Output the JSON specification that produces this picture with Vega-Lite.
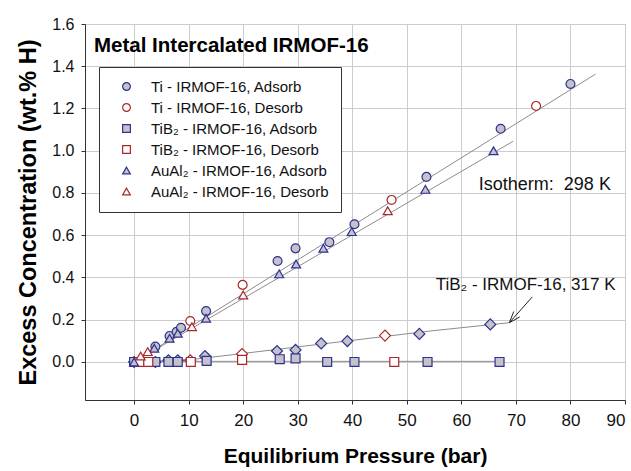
{
  "$schema": "https://vega.github.io/schema/vega-lite/v6.json",
  "width": 540,
  "height": 376,
  "autosize": {"type": "none"},
  "padding": {"left": 85, "top": 24, "right": 6, "bottom": 71},
  "background": "white",
  "config": {
    "view": {"stroke": "#888888", "strokeWidth": 1},
    "axis": {
      "labelFont": "Liberation Sans",
      "labelFontSize": 16,
      "labelColor": "#111",
      "titleFont": "Liberation Sans",
      "titleFontWeight": "bold",
      "titleColor": "#000",
      "domainColor": "#333",
      "tickColor": "#333",
      "tickSize": 4,
      "gridColor": "#cccccc",
      "gridWidth": 1
    },
    "legend": {
      "labelFont": "Liberation Sans",
      "labelFontSize": 15,
      "labelColor": "#111",
      "labelLimit": 400
    }
  },
  "datasets": {
    "pts": [
      {"P": 0, "C": 0, "s": "Ti - IRMOF-16, Adsorb"},
      {"P": 3.9, "C": 0.073, "s": "Ti - IRMOF-16, Adsorb"},
      {"P": 6.5, "C": 0.123, "s": "Ti - IRMOF-16, Adsorb"},
      {"P": 7.8, "C": 0.143, "s": "Ti - IRMOF-16, Adsorb"},
      {"P": 8.6, "C": 0.162, "s": "Ti - IRMOF-16, Adsorb"},
      {"P": 13.2, "C": 0.241, "s": "Ti - IRMOF-16, Adsorb"},
      {"P": 26.3, "C": 0.478, "s": "Ti - IRMOF-16, Adsorb"},
      {"P": 29.6, "C": 0.538, "s": "Ti - IRMOF-16, Adsorb"},
      {"P": 35.8, "C": 0.567, "s": "Ti - IRMOF-16, Adsorb"},
      {"P": 40.4, "C": 0.652, "s": "Ti - IRMOF-16, Adsorb"},
      {"P": 53.6, "C": 0.876, "s": "Ti - IRMOF-16, Adsorb"},
      {"P": 67.2, "C": 1.104, "s": "Ti - IRMOF-16, Adsorb"},
      {"P": 80.0, "C": 1.316, "s": "Ti - IRMOF-16, Adsorb"},
      {"P": 10.3, "C": 0.194, "s": "Ti - IRMOF-16, Desorb"},
      {"P": 19.9, "C": 0.365, "s": "Ti - IRMOF-16, Desorb"},
      {"P": 47.2, "C": 0.767, "s": "Ti - IRMOF-16, Desorb"},
      {"P": 73.7, "C": 1.212, "s": "Ti - IRMOF-16, Desorb"},
      {"P": 0, "C": 0, "s": "TiB₂ - IRMOF-16, Adsorb"},
      {"P": 3.9, "C": 0, "s": "TiB₂ - IRMOF-16, Adsorb"},
      {"P": 6.3, "C": 0, "s": "TiB₂ - IRMOF-16, Adsorb"},
      {"P": 8.0, "C": 0, "s": "TiB₂ - IRMOF-16, Adsorb"},
      {"P": 13.3, "C": 0.005, "s": "TiB₂ - IRMOF-16, Adsorb"},
      {"P": 26.7, "C": 0.013, "s": "TiB₂ - IRMOF-16, Adsorb"},
      {"P": 29.6, "C": 0.017, "s": "TiB₂ - IRMOF-16, Adsorb"},
      {"P": 35.4, "C": 0, "s": "TiB₂ - IRMOF-16, Adsorb"},
      {"P": 40.4, "C": 0, "s": "TiB₂ - IRMOF-16, Adsorb"},
      {"P": 53.8, "C": 0, "s": "TiB₂ - IRMOF-16, Adsorb"},
      {"P": 67.0, "C": 0, "s": "TiB₂ - IRMOF-16, Adsorb"},
      {"P": 1.0, "C": 0, "s": "TiB₂ - IRMOF-16, Desorb"},
      {"P": 2.6, "C": 0, "s": "TiB₂ - IRMOF-16, Desorb"},
      {"P": 10.4, "C": 0, "s": "TiB₂ - IRMOF-16, Desorb"},
      {"P": 19.8, "C": 0.01, "s": "TiB₂ - IRMOF-16, Desorb"},
      {"P": 47.7, "C": 0, "s": "TiB₂ - IRMOF-16, Desorb"},
      {"P": 0, "C": 0, "s": "AuAl₂ - IRMOF-16, Adsorb"},
      {"P": 3.7, "C": 0.065, "s": "AuAl₂ - IRMOF-16, Adsorb"},
      {"P": 6.5, "C": 0.112, "s": "AuAl₂ - IRMOF-16, Adsorb"},
      {"P": 8.0, "C": 0.136, "s": "AuAl₂ - IRMOF-16, Adsorb"},
      {"P": 13.2, "C": 0.207, "s": "AuAl₂ - IRMOF-16, Adsorb"},
      {"P": 26.6, "C": 0.417, "s": "AuAl₂ - IRMOF-16, Adsorb"},
      {"P": 29.7, "C": 0.464, "s": "AuAl₂ - IRMOF-16, Adsorb"},
      {"P": 34.7, "C": 0.538, "s": "AuAl₂ - IRMOF-16, Adsorb"},
      {"P": 39.9, "C": 0.617, "s": "AuAl₂ - IRMOF-16, Adsorb"},
      {"P": 53.4, "C": 0.817, "s": "AuAl₂ - IRMOF-16, Adsorb"},
      {"P": 65.9, "C": 1.0, "s": "AuAl₂ - IRMOF-16, Adsorb"},
      {"P": 1.2, "C": 0.028, "s": "AuAl₂ - IRMOF-16, Desorb"},
      {"P": 2.5, "C": 0.049, "s": "AuAl₂ - IRMOF-16, Desorb"},
      {"P": 10.6, "C": 0.167, "s": "AuAl₂ - IRMOF-16, Desorb"},
      {"P": 20.0, "C": 0.317, "s": "AuAl₂ - IRMOF-16, Desorb"},
      {"P": 46.5, "C": 0.716, "s": "AuAl₂ - IRMOF-16, Desorb"}
    ],
    "dia": [
      {"P": 0, "C": 0, "d": "A"},
      {"P": 3.9, "C": 0, "d": "A"},
      {"P": 6.3, "C": 0.008, "d": "A"},
      {"P": 8.0, "C": 0.008, "d": "A"},
      {"P": 13.0, "C": 0.028, "d": "A"},
      {"P": 26.2, "C": 0.052, "d": "A"},
      {"P": 29.6, "C": 0.057, "d": "A"},
      {"P": 34.3, "C": 0.088, "d": "A"},
      {"P": 39.1, "C": 0.099, "d": "A"},
      {"P": 52.3, "C": 0.133, "d": "A"},
      {"P": 65.3, "C": 0.178, "d": "A"},
      {"P": 10.3, "C": 0.008, "d": "D"},
      {"P": 19.8, "C": 0.038, "d": "D"},
      {"P": 46.0, "C": 0.125, "d": "D"}
    ],
    "fits": [
      {"P": 0, "C": 0, "f": "Ti"},
      {"P": 84.6, "C": 1.363, "f": "Ti"},
      {"P": 0, "C": 0, "f": "AuAl2"},
      {"P": 69.5, "C": 1.045, "f": "AuAl2"},
      {"P": 0, "C": 0, "f": "TiB2-317"},
      {"P": 10, "C": 0.01, "f": "TiB2-317"},
      {"P": 17.6, "C": 0.033, "f": "TiB2-317"},
      {"P": 54.4, "C": 0.147, "f": "TiB2-317"},
      {"P": 68.8, "C": 0.186, "f": "TiB2-317"},
      {"P": 0, "C": 0.003, "f": "TiB2-298"},
      {"P": 67, "C": 0.003, "f": "TiB2-298"}
    ],
    "arrow": [
      {"P": 73.0, "C": 0.308, "P2": 68.8, "C2": 0.186},
      {"P": 70.7, "C": 0.213, "P2": 68.8, "C2": 0.186},
      {"P": 69.6, "C": 0.239, "P2": 68.8, "C2": 0.186}
    ]
  },
  "layer": [
    {
      "data": {"name": "fits"},
      "mark": {"type": "line", "color": "#8c8c8c", "strokeWidth": 1},
      "encoding": {
        "x": {
          "field": "P", "type": "quantitative",
          "scale": {"domain": [-9, 90], "nice": false, "zero": false},
          "axis": {"values": [0, 10, 20, 30, 40, 50, 60, 70, 80, 90], "title": "Equilibrium Pressure (bar)", "titleFontSize": 21, "titlePadding": 17, "labelPadding": 8, "labelFontSize": 17}
        },
        "y": {
          "field": "C", "type": "quantitative",
          "scale": {"domain": [-0.18, 1.6], "nice": false, "zero": false},
          "axis": {"values": [0, 0.2, 0.4, 0.6, 0.8, 1.0, 1.2, 1.4, 1.6], "format": ".1f", "title": "Excess Concentration (wt.% H)", "titleFontSize": 23.5, "titlePadding": 11, "labelPadding": 7}
        },
        "detail": {"field": "f"}
      }
    },
    {
      "data": {"name": "arrow"},
      "mark": {"type": "rule", "color": "#222", "strokeWidth": 1},
      "encoding": {
        "x": {"field": "P", "type": "quantitative"},
        "y": {"field": "C", "type": "quantitative"},
        "x2": {"field": "P2"},
        "y2": {"field": "C2"}
      }
    },
    {
      "data": {"name": "dia"},
      "transform": [{"filter": "datum.d === 'A'"}],
      "mark": {"type": "point", "shape": "diamond", "size": 120, "filled": true, "fill": "#c3c3c9", "stroke": "#2e3192", "strokeWidth": 1.2, "opacity": 1},
      "encoding": {
        "x": {"field": "P", "type": "quantitative"},
        "y": {"field": "C", "type": "quantitative"}
      }
    },
    {
      "data": {"name": "dia"},
      "transform": [{"filter": "datum.d === 'D'"}],
      "mark": {"type": "point", "shape": "diamond", "size": 120, "filled": true, "fill": "white", "stroke": "#a8282a", "strokeWidth": 1.2, "opacity": 1},
      "encoding": {
        "x": {"field": "P", "type": "quantitative"},
        "y": {"field": "C", "type": "quantitative"}
      }
    },
    {
      "data": {"name": "pts"},
      "mark": {"type": "point", "filled": true, "strokeWidth": 1.2, "opacity": 1, "size": 80},
      "encoding": {
        "x": {"field": "P", "type": "quantitative"},
        "y": {"field": "C", "type": "quantitative"},
        "shape": {
          "field": "s", "type": "nominal",
          "scale": {
            "domain": ["Ti - IRMOF-16, Adsorb", "Ti - IRMOF-16, Desorb", "TiB₂ - IRMOF-16, Adsorb", "TiB₂ - IRMOF-16, Desorb", "AuAl₂ - IRMOF-16, Adsorb", "AuAl₂ - IRMOF-16, Desorb"],
            "range": ["circle", "circle", "square", "square", "triangle-up", "triangle-up"]
          },
          "legend": {
            "orient": "none", "legendX": 14, "legendY": 43, "title": null,
            "strokeColor": "#333", "fillColor": "white", "padding": 12,
            "rowPadding": 5, "symbolSize": 60, "symbolOffset": 8, "labelOffset": 17,
            "symbolStrokeWidth": 1.2
          }
        },
        "stroke": {
          "field": "s", "type": "nominal",
          "scale": {
            "domain": ["Ti - IRMOF-16, Adsorb", "Ti - IRMOF-16, Desorb", "TiB₂ - IRMOF-16, Adsorb", "TiB₂ - IRMOF-16, Desorb", "AuAl₂ - IRMOF-16, Adsorb", "AuAl₂ - IRMOF-16, Desorb"],
            "range": ["#2e3192", "#a8282a", "#2e3192", "#a8282a", "#2e3192", "#a8282a"]
          },
          "legend": {
            "orient": "none", "legendX": 14, "legendY": 43, "title": null,
            "strokeColor": "#333", "fillColor": "white", "padding": 12,
            "rowPadding": 5, "symbolSize": 60, "symbolOffset": 8, "labelOffset": 17,
            "symbolStrokeWidth": 1.2
          }
        },
        "fill": {
          "field": "s", "type": "nominal",
          "scale": {
            "domain": ["Ti - IRMOF-16, Adsorb", "Ti - IRMOF-16, Desorb", "TiB₂ - IRMOF-16, Adsorb", "TiB₂ - IRMOF-16, Desorb", "AuAl₂ - IRMOF-16, Adsorb", "AuAl₂ - IRMOF-16, Desorb"],
            "range": ["#c3c3c9", "white", "#c3c3c9", "white", "#c3c3c9", "white"]
          },
          "legend": {
            "orient": "none", "legendX": 14, "legendY": 43, "title": null,
            "strokeColor": "#333", "fillColor": "white", "padding": 12,
            "rowPadding": 5, "symbolSize": 60, "symbolOffset": 8, "labelOffset": 17,
            "symbolStrokeWidth": 1.2
          }
        }
      }
    },
    {
      "data": {"values": [{"P": -7.35, "C": 1.469, "t": "Metal Intercalated IRMOF-16"}]},
      "mark": {"type": "text", "align": "left", "baseline": "alphabetic", "font": "Liberation Sans", "fontSize": 20.5, "fontWeight": "bold", "color": "#000"},
      "encoding": {
        "x": {"field": "P", "type": "quantitative"},
        "y": {"field": "C", "type": "quantitative"},
        "text": {"field": "t"}
      }
    },
    {
      "data": {"values": [
        {"P": 63.2, "C": 0.814, "t": "Isotherm:\u00a0 298 K", "fs": 18},
        {"P": 55.3, "C": 0.341, "t": "TiB₂ - IRMOF-16, 317 K", "fs": 17}
      ]},
      "mark": {"type": "text", "align": "left", "baseline": "alphabetic", "font": "Liberation Sans", "color": "#111"},
      "encoding": {
        "x": {"field": "P", "type": "quantitative"},
        "y": {"field": "C", "type": "quantitative"},
        "text": {"field": "t"},
        "size": {"field": "fs", "type": "quantitative", "scale": null}
      }
    }
  ]
}
